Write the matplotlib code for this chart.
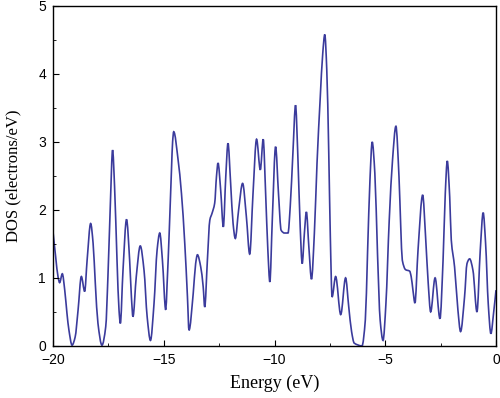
import matplotlib
matplotlib.use('Agg')
import matplotlib.pyplot as plt
from matplotlib.path import Path
from matplotlib.patches import PathPatch
from matplotlib.ticker import MultipleLocator

plt.rcParams['font.family'] = ['Liberation Serif', 'DejaVu Serif']

# energy (eV) and DOS (electrons/eV)
energy = [
    -20.00, -19.88, -19.77, -19.70, -19.58, -19.47, -19.37, -19.28, -19.14, -19.00,
    -18.87, -18.72, -18.57, -18.46, -18.30, -18.19, -18.09, -17.97, -17.79, -17.62,
    -17.52, -17.41, -17.31, -17.22, -17.11, -17.02, -16.96, -16.84, -16.68, -16.54,
    -16.46, -16.39, -16.24, -16.06, -15.89, -15.75, -15.60, -15.44, -15.30, -15.18,
    -15.06, -14.91, -14.85, -14.75, -14.65, -14.60, -14.55, -14.35, -14.20, -14.05,
    -13.93, -13.86, -13.67, -13.56, -13.48, -13.33, -13.22, -13.15, -13.03, -12.92,
    -12.82, -12.70, -12.62, -12.55, -12.43, -12.31, -12.20, -12.10, -11.98, -11.87,
    -11.77, -11.62, -11.44, -11.27, -11.12, -10.97, -10.81, -10.64, -10.51, -10.40,
    -10.30, -10.21, -10.10, -9.95, -9.82, -9.70, -9.55, -9.39, -9.29, -9.17,
    -9.05, -8.95, -8.84, -8.75, -8.65, -8.56, -8.45, -8.33, -8.20, -8.08,
    -7.94, -7.82, -7.73, -7.64, -7.55, -7.48, -7.40, -7.24, -7.01, -6.79,
    -6.65, -6.52, -6.40, -6.05, -5.90, -5.80, -5.69, -5.59, -5.47, -5.35,
    -5.23, -5.10, -4.97, -4.82, -4.67, -4.52, -4.38, -4.30, -4.23, -4.08,
    -3.90, -3.83, -3.75, -3.66, -3.52, -3.31, -3.18, -3.06, -2.95, -2.75,
    -2.53, -2.39, -2.29, -2.20, -2.09, -2.02, -1.87, -1.72, -1.60, -1.42,
    -1.31, -1.19, -1.04, -0.86, -0.71, -0.58, -0.47, -0.35, -0.23, -0.11,
    0.00,
]
dos = [
    1.68, 1.31, 1.01, 0.93, 1.06, 0.82, 0.48, 0.23, 0.01, 0.13,
    0.52, 1.02, 0.80, 1.26, 1.80, 1.51, 0.92, 0.33, 0.01, 0.28,
    1.02, 2.09, 2.88, 2.34, 1.26, 0.53, 0.33, 1.11, 1.86, 1.26,
    0.72, 0.43, 1.02, 1.47, 1.11, 0.43, 0.08, 0.62, 1.41, 1.66,
    1.26, 0.53, 0.90, 1.70, 2.60, 3.00, 3.15, 2.73, 2.24, 1.50,
    0.72, 0.23, 0.77, 1.21, 1.34, 1.16, 0.87, 0.57, 1.26, 1.85,
    1.95, 2.10, 2.49, 2.69, 2.29, 1.75, 2.49, 2.98, 2.39, 1.80,
    1.58, 2.00, 2.39, 1.90, 1.35, 2.24, 3.04, 2.59, 3.04, 2.24,
    1.41, 0.94, 1.85, 2.93, 2.24, 1.70, 1.66, 1.66, 2.05, 2.83,
    3.54, 2.83, 1.75, 1.21, 1.66, 1.97, 1.46, 0.98, 1.66, 2.69,
    3.62, 4.31, 4.58, 4.06, 2.83, 1.61, 0.72, 1.02, 0.46, 1.00,
    0.58, 0.21, 0.04, 0.00, 0.38, 1.36, 2.44, 3.00, 2.54, 1.36,
    0.38, 0.08, 0.62, 1.85, 2.74, 3.23, 2.49, 1.75, 1.26, 1.12,
    1.10, 1.02, 0.82, 0.63, 1.41, 2.22, 1.61, 0.92, 0.50, 1.00,
    0.40, 1.26, 2.24, 2.72, 2.19, 1.56, 1.16, 0.53, 0.21, 0.72,
    1.21, 1.28, 1.11, 0.50, 1.41, 1.96, 1.51, 0.62, 0.18, 0.48,
    0.82,
]


def smooth_path(xs, ys):
    # monotone cubic bezier through the read points (no overshoot)
    n = len(xs)
    d = [(ys[i + 1] - ys[i]) / (xs[i + 1] - xs[i]) for i in range(n - 1)]
    m = [d[0]] + [0.0] * (n - 2) + [d[-1]]
    for i in range(1, n - 1):
        if d[i - 1] * d[i] > 0:
            m[i] = 2.0 / (1.0 / d[i - 1] + 1.0 / d[i])
    verts = [(xs[0], ys[0])]
    codes = [Path.MOVETO]
    for i in range(n - 1):
        h = xs[i + 1] - xs[i]
        verts += [(xs[i] + h / 3, ys[i] + m[i] * h / 3),
                  (xs[i + 1] - h / 3, ys[i + 1] - m[i + 1] * h / 3),
                  (xs[i + 1], ys[i + 1])]
        codes += [Path.CURVE4] * 3
    return Path(verts, codes)


fig = plt.figure(figsize=(5.0, 3.98), dpi=100)
ax = fig.add_axes([0.106, 0.131, 0.886, 0.854])

ax.add_patch(PathPatch(smooth_path(energy, dos), fill=False,
                       edgecolor='#3b3b9c', lw=1.2))

ax.set_xlim(-20, 0)
ax.set_ylim(0, 5)
ax.xaxis.set_major_locator(MultipleLocator(5))
ax.xaxis.set_minor_locator(MultipleLocator(2.5))
ax.yaxis.set_major_locator(MultipleLocator(1))
ax.yaxis.set_minor_locator(MultipleLocator(0.5))
ax.tick_params(which='both', direction='in', top=False, right=False)
ax.tick_params(which='major', length=4, pad=5)
ax.tick_params(which='minor', length=2.5)
for lab in ax.get_xticklabels() + ax.get_yticklabels():
    lab.set_fontfamily('Liberation Sans')
    lab.set_fontsize(10)
ax.set_xlabel('Energy (eV)', fontsize=13, labelpad=6)
ax.set_ylabel('DOS (electrons/eV)', fontsize=12, labelpad=12)
for s in ax.spines.values():
    s.set_linewidth(1.0)

fig.savefig('out.png', dpi=100)
